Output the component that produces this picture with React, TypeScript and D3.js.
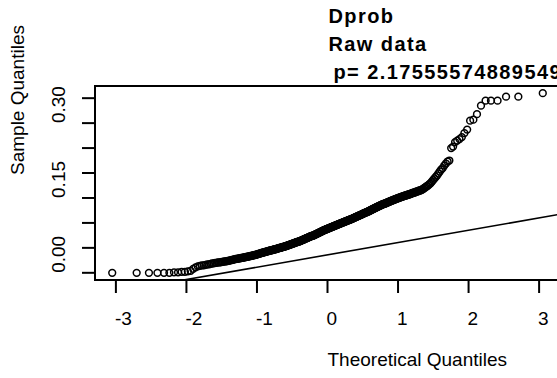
import React from "react";
import * as d3 from "d3";

// Sorted sample quantiles (Dprob)
const sampleValues: number[] = [
  0, 0, 0, 0, 0, 0,
  0.001, 0.001, 0.002, 0.002, 0.003, 0.004,
  0.008, 0.011, 0.013,
  0.014, 0.015, 0.015, 0.016, 0.017, 0.017, 0.018, 0.019, 0.019, 0.020,
  0.020, 0.021, 0.021, 0.021, 0.022, 0.022, 0.023, 0.023, 0.023, 0.024, 0.024, 0.025, 0.025, 0.026, 0.026, 0.027, 0.027, 0.028,
  0.028, 0.028, 0.029, 0.029, 0.029, 0.030, 0.030, 0.030, 0.031, 0.031, 0.031, 0.032, 0.032, 0.032, 0.033, 0.033, 0.033, 0.034, 0.034, 0.034, 0.035, 0.035, 0.035, 0.036, 0.036, 0.036, 0.037,
  0.037, 0.038, 0.038, 0.038, 0.039, 0.039, 0.040, 0.040, 0.040, 0.041, 0.041, 0.041, 0.042, 0.042, 0.042, 0.043, 0.043, 0.043, 0.044, 0.044, 0.044, 0.045, 0.045, 0.045,
  0.045, 0.046, 0.046, 0.046, 0.047, 0.047, 0.047, 0.047, 0.048, 0.048, 0.048, 0.049, 0.049, 0.049, 0.050, 0.050, 0.050, 0.050, 0.051, 0.051, 0.051, 0.052, 0.052, 0.052, 0.052, 0.053, 0.053,
  0.053, 0.054, 0.054, 0.054, 0.055, 0.055, 0.055, 0.056, 0.056, 0.056, 0.057, 0.057, 0.057, 0.058, 0.058, 0.058, 0.059, 0.059, 0.059, 0.060, 0.060, 0.060, 0.061, 0.061, 0.061, 0.062, 0.062, 0.062, 0.062, 0.063, 0.063,
  0.063, 0.064, 0.064, 0.064, 0.065, 0.065, 0.066, 0.066, 0.066, 0.067, 0.067, 0.067, 0.068, 0.068, 0.069, 0.069, 0.069, 0.070, 0.070, 0.070, 0.071, 0.071, 0.072, 0.072, 0.072, 0.073, 0.073, 0.073, 0.074, 0.074, 0.074, 0.074, 0.075, 0.075,
  0.075, 0.076, 0.076, 0.077, 0.077, 0.077, 0.078, 0.078, 0.079, 0.079, 0.079, 0.080, 0.080, 0.081, 0.081, 0.081, 0.082, 0.082, 0.083, 0.083, 0.083, 0.084, 0.084, 0.085, 0.085, 0.085, 0.086, 0.086, 0.086, 0.087, 0.087, 0.087, 0.088, 0.088,
  0.088, 0.089, 0.089, 0.089, 0.090, 0.090, 0.090, 0.091, 0.091, 0.091, 0.092, 0.092, 0.092, 0.093, 0.093, 0.093, 0.094, 0.094, 0.094, 0.095, 0.095, 0.095, 0.096, 0.096, 0.096, 0.097, 0.097, 0.097, 0.098, 0.098, 0.098, 0.099, 0.099, 0.099, 0.100,
  0.100, 0.100, 0.101, 0.101, 0.101, 0.102, 0.102, 0.102, 0.103, 0.103, 0.103, 0.104, 0.104, 0.104, 0.105, 0.105, 0.105, 0.106, 0.106, 0.106, 0.107, 0.107, 0.107, 0.108, 0.108, 0.108, 0.109, 0.109, 0.110, 0.110, 0.110, 0.111, 0.111, 0.112,
  0.112, 0.112, 0.113, 0.113, 0.114, 0.114, 0.114, 0.115, 0.115, 0.116, 0.116, 0.116, 0.117, 0.117, 0.118, 0.118, 0.119, 0.119, 0.119, 0.120, 0.120, 0.121, 0.121, 0.121, 0.122, 0.122, 0.123, 0.123, 0.124, 0.124, 0.125,
  0.125, 0.126, 0.126, 0.127, 0.127, 0.128, 0.128, 0.129, 0.129, 0.130, 0.130, 0.131, 0.131, 0.132, 0.132, 0.133, 0.133, 0.134, 0.134, 0.135, 0.135, 0.136, 0.136, 0.137, 0.137, 0.138, 0.138,
  0.138, 0.139, 0.139, 0.140, 0.140, 0.141, 0.141, 0.142, 0.142, 0.143, 0.143, 0.144, 0.144, 0.145, 0.145, 0.146, 0.146, 0.147, 0.147, 0.148, 0.148, 0.149, 0.149, 0.150,
  0.150, 0.151, 0.151, 0.152, 0.152, 0.153, 0.153, 0.154, 0.154, 0.155, 0.155, 0.156, 0.156, 0.157, 0.157, 0.158, 0.158, 0.159, 0.160,
  0.160, 0.161, 0.161, 0.162, 0.163, 0.163, 0.164, 0.165, 0.165, 0.166, 0.167, 0.168,
  0.170, 0.171, 0.173, 0.174, 0.176, 0.178,
  0.180, 0.183, 0.186, 0.189, 0.192, 0.195,
  0.199, 0.203, 0.207, 0.210,
  0.215, 0.219, 0.223, 0.225,
  0.250, 0.253, 0.262, 0.265, 0.268, 0.272, 0.280, 0.287, 0.305, 0.307, 0.318, 0.335, 0.345, 0.345, 0.345, 0.353, 0.353, 0.360,
];

// qqline parameters (intercept, slope) as drawn
const lineIntercept = 0.036;
const lineSlope = 0.0247;

const xTicks = [-3, -2, -1, 0, 1, 2, 3];
const yTicks = [0, 0.05, 0.1, 0.15, 0.2, 0.25, 0.3, 0.35];
const yTickLabels: [number, string][] = [
  [0, "0.00"],
  [0.15, "0.15"],
  [0.3, "0.30"],
];
const titleLines = ["Dprob", "Raw data", "p= 2.17555574889549"];
const xLabel = "Theoretical Quantiles";
const yLabel = "Sample Quantiles";

function qnorm(p: number): number {
  const a = [-3.969683028665376e1, 2.209460984245205e2, -2.759285104469687e2, 1.38357751867269e2, -3.066479806614716e1, 2.506628277459239];
  const b = [-5.447609879822406e1, 1.615858368580409e2, -1.556989798598866e2, 6.680131188771972e1, -1.328068155288572e1];
  const c = [-7.784894002430293e-3, -3.223964580411365e-1, -2.400758277161838, -2.549671180899257, 4.374664141464968, 2.938163982698783];
  const d = [7.784695709041462e-3, 3.224671290700398e-1, 2.445134137142996, 3.754408661907416];
  const plow = 0.02425;
  if (p < plow) {
    const q = Math.sqrt(-2 * Math.log(p));
    return (((((c[0] * q + c[1]) * q + c[2]) * q + c[3]) * q + c[4]) * q + c[5]) /
      ((((d[0] * q + d[1]) * q + d[2]) * q + d[3]) * q + 1);
  }
  if (p <= 1 - plow) {
    const q = p - 0.5;
    const r = q * q;
    return ((((((a[0] * r + a[1]) * r + a[2]) * r + a[3]) * r + a[4]) * r + a[5]) * q) /
      (((((b[0] * r + b[1]) * r + b[2]) * r + b[3]) * r + b[4]) * r + 1);
  }
  const q = Math.sqrt(-2 * Math.log(1 - p));
  return -(((((c[0] * q + c[1]) * q + c[2]) * q + c[3]) * q + c[4]) * q + c[5]) /
    ((((d[0] * q + d[1]) * q + d[2]) * q + d[3]) * q + 1);
}

const FONT = "'Liberation Sans', Arial, Helvetica, sans-serif";

export default function App() {
  const n = sampleValues.length;
  const points = sampleValues.map((v, i) => ({ tq: qnorm((i + 1 - 0.5) / n), v }));

  const xExt = d3.extent(points, (p) => p.tq) as [number, number];
  const yExt = d3.extent(points, (p) => p.v) as [number, number];
  const xPad = (xExt[1] - xExt[0]) * 0.04;
  const yPad = (yExt[1] - yExt[0]) * 0.04;

  const left = 95, right = 560, top = 86, bottom = 280;
  const x = d3.scaleLinear().domain([xExt[0] - xPad, xExt[1] + xPad]).range([left, right]);
  const y = d3.scaleLinear().domain([yExt[0] - yPad, yExt[1] + yPad]).range([bottom, top]);

  const [dx0, dx1] = x.domain();
  const linePath = d3.line<number>()
    .x((t) => x(t))
    .y((t) => y(lineIntercept + lineSlope * t))([dx0, dx1]);

  const cx = (left + right) / 2;
  const cy = (top + bottom) / 2;

  return (
    <svg
      width={557}
      height={378}
      style={{ position: "absolute", left: 0, top: 0, background: "#fff" }}
      fontFamily={FONT}
    >
      <defs>
        <clipPath id="plotclip">
          <rect x={left} y={top} width={right - left} height={bottom - top} />
        </clipPath>
      </defs>
      {/* titles */}
      {titleLines.map((t, i) => (
        <text
          key={t}
          x={i === 2 ? cx + 6 : cx + 1}
          y={23 + i * 28}
          fontSize={20}
          fontWeight="bold"
          letterSpacing={1.4}
          fill="#000"
        >
          {t}
        </text>
      ))}
      {/* points */}
      <g clipPath="url(#plotclip)">
        {points.map((p, i) => (
          <circle key={i} cx={x(p.tq)} cy={y(p.v)} r={3.4} fill="none" stroke="#000" strokeWidth={1.5} />
        ))}
        <path d={linePath || ""} stroke="#000" strokeWidth={1.6} fill="none" />
      </g>
      {/* box */}
      <rect x={left} y={top} width={right - left} height={bottom - top} fill="none" stroke="#000" strokeWidth={2} />
      {/* x axis */}
      {xTicks.map((t) => (
        <g key={t}>
          <line x1={x(t)} x2={x(t)} y1={bottom} y2={bottom + 13} stroke="#000" strokeWidth={2} />
          <text x={x(t) - 1} y={325} fontSize={19} fill="#000">
            {String(t)}
          </text>
        </g>
      ))}
      {/* y axis */}
      {yTicks.map((t) => (
        <line key={t} x1={left - 13} x2={left} y1={y(t)} y2={y(t)} stroke="#000" strokeWidth={2} />
      ))}
      {yTickLabels.map(([v, s]) => (
        <text key={s} transform={`translate(65,${y(v)}) rotate(-90)`} fontSize={19} fill="#000">
          {s}
        </text>
      ))}
      {/* axis titles */}
      <text x={cx} y={366} fontSize={19} fill="#000">
        {xLabel}
      </text>
      <text transform={`translate(24,${cy - 8}) rotate(-90)`} fontSize={19} fill="#000">
        {yLabel}
      </text>
    </svg>
  );
}
